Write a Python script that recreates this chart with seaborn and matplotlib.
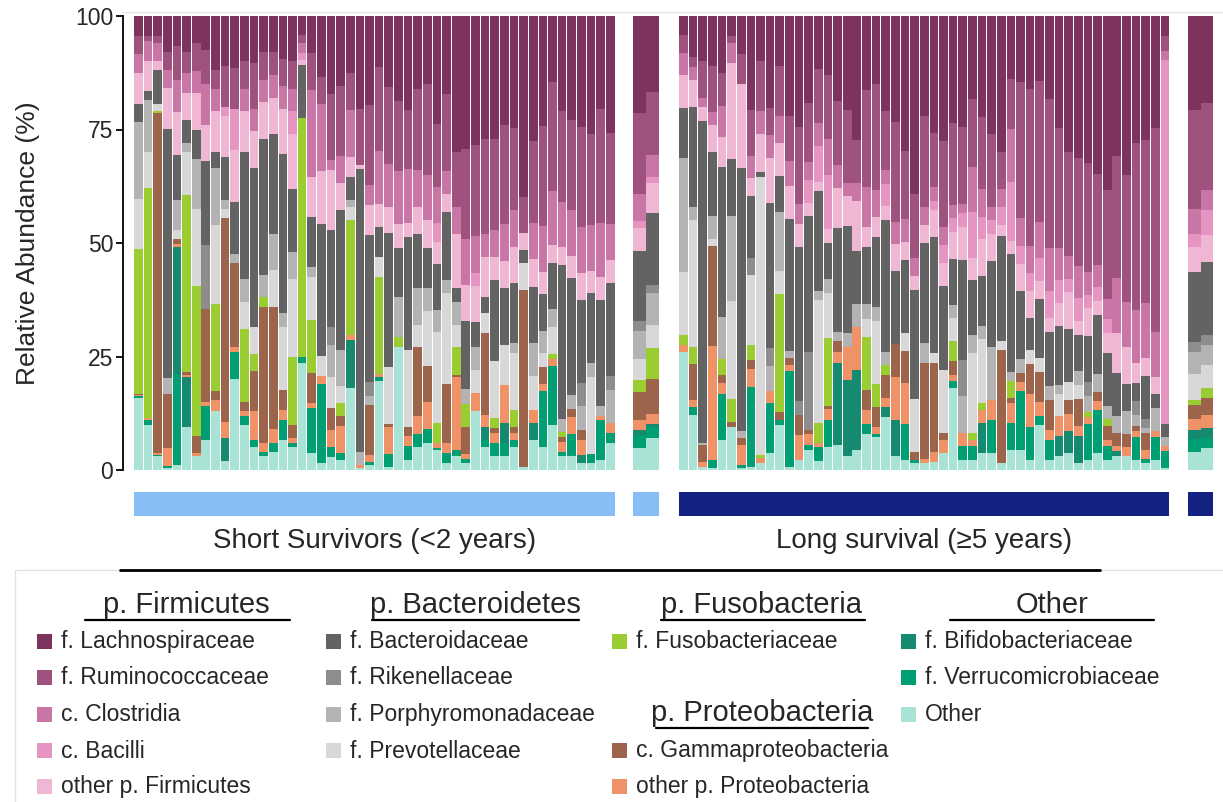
import numpy as np
import matplotlib
matplotlib.use("Agg")
import matplotlib.pyplot as plt
import seaborn as sns
from matplotlib.lines import Line2D
from matplotlib.patches import Rectangle

sns.set_theme(style="white")
plt.rcParams['font.family'] = ['Liberation Sans', 'DejaVu Sans']

W, H = 1223, 802

# ---------------- data (bottom -> top stacking order) ----------------
# order of bars: 50 short-survivor samples, 2 short means,
#                51 long-survivor samples, 2 long means
labels = ["Other", "f. Verrucomicrobiaceae", "f. Bifidobacteriaceae",
          "other p. Proteobacteria", "c. Gammaproteobacteria", "f. Fusobacteriaceae",
          "f. Prevotellaceae", "f. Porphyromonadaceae", "f. Rikenellaceae",
          "f. Bacteroidaceae", "other p. Firmicutes", "c. Bacilli", "c. Clostridia",
          "f. Ruminococcaceae", "f. Lachnospiraceae"]
colors = ["#A8E3D5", "#009E73", "#168A70", "#F09268", "#9C644A", "#9ACD32",
          "#D8D8D8", "#B3B3B3", "#8D8D8D", "#636363", "#F0B7D5", "#E694C2",
          "#C975A6", "#A0527E", "#7C335E"]

other = [16, 10, 3, 0.5, 1, 9.5, 3, 6.5, 13, 2,
         20, 10, 5, 3, 4, 6.6, 5, 23.5, 3.7, 1.5,
         2.9, 2.2, 18, 0.5, 1.1, 19.5, 0.7, 27.2, 2.2, 5,
         6, 4.4, 1.5, 3, 1.5, 13, 5, 3, 3, 5,
         0.7, 6.6, 5, 10, 3, 3, 1.5, 1.5, 2.2, 5.9,
         4.8, 7,
         26, 12, 0.7, 0.5, 6.6, 9.5, 0.5, 0.7, 1.5, 3.7,
         10, 0.7, 2.2, 4.4, 2, 5, 5.5, 3, 4.4, 8,
         7.3, 11.7, 3, 2.2, 1.5, 1.5, 1.8, 3.7, 18, 2.2,
         2.2, 3.7, 3.7, 1.5, 4.4, 4.4, 2.2, 10, 2.2, 3,
         3.7, 1.5, 2.2, 3.7, 2.2, 3, 3, 2.2, 1.5, 2.2,
         0.5,
         4, 4.8]
verruco = [0.3, 1, 0.3, 0.3, 20, 0, 0, 7.5, 0, 0,
           6, 2, 1.5, 1, 2, 4.4, 1, 1.5, 9.9, 17.3,
           2.2, 1.5, 0, 0, 0.7, 1, 2.9, 0, 3, 3,
           3, 0.5, 2.2, 1.5, 1, 0, 1.5, 3, 3, 1.5,
           0, 0, 12.5, 13, 1, 5, 0, 2, 8.8, 2.2,
           3, 2.6,
           0, 1.8, 0, 1.8, 10, 0, 0.7, 17.5, 0, 11,
           1, 21, 0, 1, 3, 6, 0, 0, 0, 2.2,
           0.7, 0, 0, 8, 0.7, 0, 0, 0, 1.5, 3,
           3, 0, 7.3, 0, 6, 13, 7.3, 2, 4.4, 0,
           0, 0, 8, 9.5, 3, 0, 0, 5, 1, 5,
           3.7,
           2.9, 2.2]
bifido = [0, 0, 0, 0, 28, 11, 0, 0, 0, 5,
          0, 0, 0, 0, 0, 0, 0, 0, 0, 0,
          0, 0, 10.6, 0, 0, 0, 0, 0, 0, 0,
          0, 0, 0, 0, 0, 0, 3, 0, 4.4, 0,
          0, 3.7, 0, 0, 0, 0, 1.8, 0, 0, 0,
          1, 0.5,
          0, 0, 0, 0, 0, 0, 0, 0, 0, 0,
          0, 0, 0, 0, 0, 0, 18, 16.9, 17.6, 0,
          0, 2.2, 8, 0, 0, 0, 0, 0, 0, 0,
          0, 6.6, 0, 0, 0, 0, 0, 0, 0, 4.4,
          5, 6, 0, 0, 0, 1.1, 0, 0, 0, 0,
          0,
          1.8, 2.2]
proteo_other = [0.3, 0.5, 0.5, 4, 0.7, 0.5, 0.7, 1, 2.5, 3.5,
                1, 1, 6.6, 2, 3, 2.2, 1, 0, 1.1, 1.8,
                3.7, 5.9, 1.1, 0.5, 1.5, 0.7, 5.9, 0, 2.2, 4,
                6, 1, 2.2, 16, 1, 4, 2.6, 2.2, 8.4, 1.5,
                0, 3, 1.5, 1.5, 2.2, 3.7, 3.3, 0, 1, 2.2,
                2.2, 2.2,
                1.5, 1.5, 1, 25, 2.5, 0, 4.4, 4, 1.1, 2.6,
                0, 1.5, 5.5, 2.5, 1, 2.5, 2.5, 7.3, 9.5, 3,
                1.5, 2, 9.5, 9, 0, 1, 2.2, 2.9, 1.5, 3,
                1.5, 3, 4.4, 0, 4.4, 2, 7.3, 3, 2.2, 4.4,
                3.7, 2, 1.5, 2, 1.5, 1.1, 2, 1.5, 2, 1.5,
                1,
                2.6, 2.9]
gamma = [0.3, 0, 75, 12, 1, 0.5, 3.7, 20.5, 2, 45,
         18.5, 2, 8.8, 30, 27, 4.4, 3, 0, 6.6, 0,
         4.8, 2.2, 0, 0, 11, 0, 0.7, 0, 2, 15,
         8, 0, 13, 0.5, 6, 0, 18, 1, 0, 1.5,
         39, 0, 3.7, 0, 1.1, 1.8, 2.2, 0, 0, 0,
         6.2, 7.7,
         0, 8, 3.7, 22, 1.8, 1.1, 1.5, 2, 0, 0,
         1.8, 1.5, 4.4, 1, 0, 0.5, 2.5, 0, 0, 4.4,
         4.4, 5, 7.3, 7, 1.8, 21, 19.5, 1.5, 3, 0,
         0, 0, 0, 25, 1, 2, 6.6, 6.6, 6.6, 0,
         3, 6, 0, 2, 3, 3, 3, 1, 3.7, 0,
         0,
         2.9, 3.7]
fuso = [32, 51, 0.3, 0, 0, 39, 33, 0, 19, 0,
        0, 16, 3.7, 2, 0, 0, 15, 52.5, 11.7, 0,
        0, 2.9, 25.3, 0, 0, 21.3, 0, 2, 0, 0,
        0, 4.4, 0, 6, 5, 0, 0, 2.2, 0, 3.7,
        0, 0, 0, 1, 1, 0, 0, 0, 0, 0,
        2.6, 7,
        2.2, 3.7, 0, 0, 3.3, 5, 0, 3.3, 0.7, 0,
        26, 0, 0, 0, 4.4, 15, 0, 0, 0, 11.7,
        5, 2.2, 0, 0, 0, 0, 0, 0, 4.4, 0,
        1.5, 1.5, 0, 0, 3.7, 0, 0, 0, 0, 0,
        0, 0, 1, 0, 1.5, 0, 0, 0, 0, 0,
        0,
        1.1, 2.2]
prevotella = [11, 8, 1.5, 0, 2, 9.5, 17, 0, 17.5, 2,
              0, 6, 6, 0, 8, 14, 17, 0, 9.5, 4.4,
              7, 3.7, 2.9, 0, 0, 4.4, 12.5, 0, 17, 5,
              12, 20, 20, 5, 0, 5, 4.4, 12.5, 8.8, 12.5,
              5.9, 7.3, 3, 6, 0, 0, 0, 17, 0, 0,
              4.8, 5.1,
              14, 27.9, 0, 1.5, 0, 21.5, 0, 15.4, 61.3, 0,
              5, 0, 0, 0, 27, 10, 0, 0, 0, 4,
              14, 0, 0, 4, 11.7, 0, 2.2, 14, 5, 0,
              17.6, 14, 0, 2, 0, 0, 3, 3, 0, 5,
              4, 3, 0, 0, 0, 0, 0, 0, 0, 0,
              0,
              5.9, 5.1]
porphyro = [17, 11.5, 0, 3.5, 6.5, 2, 11, 0, 12.5, 2,
            2, 5, 0, 5, 8, 3, 6, 0, 2.2, 0,
            7, 8.1, 1.5, 3, 2.1, 0, 0, 8.8, 0, 8,
            5, 5, 3, 5, 3.3, 5, 0, 0, 0, 2.2,
            0, 7.3, 5, 4, 3, 3, 5.3, 3, 2, 7.3,
            6.2, 7,
            25, 2.9, 0.5, 5, 9.2, 18.7, 1.5, 0, 0, 5.5,
            13, 1.5, 0, 0, 2, 3, 2, 3, 5, 3.3,
            3, 3, 0, 0, 0, 4.4, 0, 0, 3, 8,
            4, 3, 11.7, 0, 2, 3, 0, 0, 3, 2,
            0, 3, 3.6, 4, 2.9, 3.7, 5, 2.5, 1, 5,
            2,
            4.8, 4.4]
rikenella = [0, 0, 0, 0, 0, 0, 0, 14, 0, 0,
             0, 0, 0, 0, 0, 0, 0, 0, 0, 0,
             4, 0, 0, 0, 3, 0, 0, 0, 0, 0,
             0, 0, 0, 0, 0, 0, 0, 0, 0, 0,
             0, 0, 0, 0, 0, 0, 5, 0, 0, 3,
             2.2, 1.8,
             0, 0, 0, 0, 0, 0, 0, 3.7, 0, 4,
             0, 0, 3, 17, 0, 0, 0, 0, 0, 0,
             0, 0, 0, 0, 0, 0, 0, 0, 0, 8,
             0, 0, 0, 0, 0, 0, 0, 0, 0, 0,
             0, 0, 3, 0, 0, 0, 0, 3, 2, 0,
             0,
             2.2, 2.2]
bacteroid = [4, 2, 7.5, 55, 10, 5, 6.5, 18.5, 3.5, 9.5,
             11.5, 28, 35, 30, 22, 35, 14, 11.7, 11, 29,
             21.3, 30.8, 5.1, 62.4, 32.3, 6.6, 29.4, 11, 25, 12,
             9, 10, 15, 3, 15, 5.5, 3.7, 18, 12.5, 13,
             3, 12.5, 8, 10, 33.8, 25.7, 18.4, 15.4, 23.5, 20.6,
             15.4, 15.8,
             11, 22, 71, 14, 33, 12.5, 58, 13.6, 1.1, 32,
             8, 29, 34, 30, 22, 8, 22.7, 23.5, 11.7, 12.5,
             15.4, 29, 16, 16, 24, 22, 25.7, 18.4, 10, 22,
             12, 11, 19, 23, 26, 15, 7, 13, 12, 13,
             11.7, 8, 10.3, 13, 11.7, 9.5, 6, 4, 9.5, 3,
             3,
             15.4, 16.2]
firm_other = [7, 6.5, 2, 9, 9.5, 6, 8, 8, 9, 9,
              11.5, 9, 8, 8, 8, 10, 12, 1.1, 8.8, 11.7,
              13.2, 5.9, 4.4, 0.7, 6.6, 5.1, 5.9, 5.1, 3, 6,
              6, 5, 4, 12, 8, 8, 8.8, 5, 6, 8,
              3.7, 6, 5, 4, 4, 5, 6, 5, 5, 5,
              5.1, 6.6,
              7.3, 5.9, 3, 6, 6.6, 21, 18.4, 4, 8.4, 10,
              7.3, 7.3, 5, 3, 2, 3, 9, 6.6, 11, 4.4,
              4.4, 3, 5.9, 4, 3, 4, 5.9, 5, 6, 7.3,
              5, 8, 5.9, 2.5, 3, 6, 6, 4, 3, 5,
              8, 3, 6, 3, 4.4, 8.8, 8, 4.4, 4, 3.7,
              0,
              5.5, 5.9]
bacilli = [0, 0, 0, 0, 0, 0, 0, 0, 0, 2,
           9, 0, 0, 0, 0, 0, 5, 1.5, 0, 0,
           0, 0, 0, 0, 0, 0, 0, 0, 0, 0,
           0, 4, 0, 0, 0, 3, 0, 0, 0, 0,
           0, 0, 0, 0, 0, 0, 0, 0, 0, 0,
           1.5, 1.5,
           0, 0, 0, 0, 0, 0, 0, 0, 0, 0,
           0, 0, 0, 5, 8, 12, 0, 0, 0, 0,
           0, 5, 0, 0, 0, 0, 2, 4, 3, 3,
           10, 5, 3, 4, 13, 4, 4, 5, 6, 5,
           3, 5, 3, 3, 3, 0, 0, 0, 0, 0,
           80,
           2.9, 5.5]
clostridia = [4, 4.5, 4, 4, 7, 4.5, 5, 9, 5, 0,
              0, 5, 5, 5, 5, 5, 5, 2.2, 19.1, 14.7,
              2.2, 5.9, 10.3, 0, 4.4, 11.7, 9.5, 11.7, 12, 8,
              10, 8, 5, 6, 10, 8, 5, 6, 8, 8,
              0, 8, 10, 12, 10, 10, 10, 10, 12, 8,
              5.9, 4.8,
              4.8, 2.9, 2, 3, 6.6, 4.4, 0, 5, 5, 5,
              6, 5.5, 4.4, 4, 5, 8, 5, 3, 4, 8.8,
              5.9, 3, 5, 5, 4, 4, 3, 4, 3, 2,
              10, 6, 3, 4, 11.7, 6, 6, 8, 9.4, 7,
              5, 7, 5, 5, 4.3, 12, 10, 11.7, 12, 10,
              2,
              5.5, 4.4]
rumino = [4, 1, 1.5, 4, 7.5, 4.5, 6, 7.5, 4, 9,
          9, 6, 10, 6, 5, 6, 6, 1.8, 8.1, 5.9,
          14.7, 15.4, 8.1, 12.5, 17.6, 18.4, 16.9, 15.4, 13, 18,
          20, 14, 17, 12, 20, 20, 21, 20, 22, 18,
          8, 18, 22, 24, 20, 20, 22, 20, 25, 20,
          18, 14,
          4, 2.2, 8, 10, 7.3, 1.5, 6.6, 10, 11, 6,
          11, 10, 17, 13, 12, 14, 14, 16, 9.5, 21.3,
          23.5, 13, 22, 15, 14, 20, 12, 19, 18, 17,
          15, 16, 16, 8, 11, 30, 34.5, 31, 33, 26.5,
          23, 23.5, 24, 20, 24, 27, 28, 36.7, 36, 45,
          3.3,
          21.7, 19.1]
lachno = [4.5, 4.5, 4.5, 8, 6.5, 8, 6, 7.5, 12, 11,
          11.5, 10, 10.4, 8, 8, 9.4, 10, 4.2, 8.2, 13.4,
          17.1, 15.5, 12.6, 20.4, 19.7, 11.3, 15.6, 18.8, 20.6, 16,
          15, 23.7, 17.1, 30, 29.2, 28.5, 27, 27.1, 23.9, 24.6,
          39.8, 27.6, 24.3, 14.5, 20.9, 22.8, 24.5, 26.1, 20.5, 25.8,
          21.4, 16.7,
          4.2, 9, 10, 11, 12.5, 4.4, 8.4, 20.7, 9.9, 20.2,
          11, 22, 24.5, 19.1, 11.6, 13, 18.8, 20.7, 27.3, 16.4,
          14.9, 20.9, 23.3, 29.8, 39.3, 22.1, 25.7, 27.5, 23.6, 24.5,
          18.2, 22.2, 26, 30, 13.8, 14.6, 16.1, 14.4, 18.2, 24.7,
          29.9, 31, 32.4, 34.8, 38.3, 30.8, 35, 28, 27.3, 24.6,
          4.5,
          20.7, 19.2]

series = [other, verruco, bifido, proteo_other, gamma, fuso, prevotella,
          porphyro, rikenella, bacteroid, firm_other, bacilli, clostridia,
          rumino, lachno]

group_labels = ["Short Survivors (<2 years)", "Long survival (\u22655 years)"]
group_colors = ["#86BEF5", "#132180"]
n_short, n_long = 50, 51

# relative abundance -> percent of each bar
vals = np.array(series, dtype=float)
vals = vals / vals.sum(axis=0, keepdims=True) * 100

# ---------------- layout ----------------
short_x = np.arange(n_short, dtype=float)
short_mean_x = short_x[-1] + np.array([3.04, 4.39])
long_x = short_mean_x[-1] + 3.21 + np.arange(n_long, dtype=float)
long_mean_x = long_x[-1] + np.array([3.05, 4.35])
x_all = np.concatenate([short_x, short_mean_x, long_x, long_mean_x])
w_all = np.concatenate([np.full(n_short, 0.9), np.full(2, 1.36),
                        np.full(n_long, 0.9), np.full(2, 1.31)])

fig = plt.figure(figsize=(W / 100, H / 100), dpi=100)
fig.patch.set_facecolor("white")

def fx(px):
    return px / W

def fy(py):
    return 1 - py / H

x0, x1 = 123, 1217
xlim = (-1.6, -1.6 + (x1 - x0) / 9.63)
ax = fig.add_axes([fx(x0), fy(470), fx(x1) - fx(x0), fy(16) - fy(470)])
bottom = np.zeros(vals.shape[1])
for v, c in zip(vals, colors):
    ax.bar(x_all, v, width=w_all, bottom=bottom, color=c, linewidth=0, align="center")
    bottom += v
ax.set_xlim(*xlim)
ax.set_ylim(0, 100)
ax.set_yticks([0, 25, 50, 75, 100])
ax.set_yticklabels(["0", "25", "50", "75", "100"], fontsize=16.5)
ax.set_xticks([])
sns.despine(ax=ax, top=True, right=True, bottom=True, left=False)
ax.spines['left'].set_color("black")
ax.spines['left'].set_linewidth(1.3)
ax.tick_params(axis='y', length=5, width=1.3, color="black", direction="out", pad=2, left=True)
ax.set_facecolor("white")
ax.grid(False)

fig.text(fx(28), fy(243), "Relative Abundance (%)", rotation=90, ha="center",
         va="center", fontsize=19)

# group strips
ax2 = fig.add_axes([fx(x0), fy(516), fx(x1) - fx(x0), fy(492) - fy(516)])
ax2.set_xlim(*xlim)
ax2.set_ylim(0, 1)
ax2.axis("off")
for xs, ms, col, lab in [(short_x, short_mean_x, group_colors[0], group_labels[0]),
                         (long_x, long_mean_x, group_colors[1], group_labels[1])]:
    ax2.bar((xs[0] + xs[-1]) / 2, 1, width=xs[-1] - xs[0] + 0.9, color=col, linewidth=0)
    ax2.bar(ms.mean(), 1, width=ms[-1] - ms[0] + 1.33, color=col, linewidth=0)
    ax2.text((xs[0] + xs[-1]) / 2, -1.05, lab, ha="center", va="center", fontsize=20)

# separator lines / legend frame
fig.add_artist(Line2D([fx(122), fx(1223)], [fy(11.5)] * 2, color="#e6e6e6", lw=1))
fig.add_artist(Rectangle((fx(15), fy(802) - 0.01), fx(1240) - fx(15), fy(570) - fy(802) + 0.01,
                         fill=False, edgecolor="#e2e2e2", lw=1, transform=fig.transFigure))
fig.add_artist(Line2D([fx(120), fx(1100)], [fy(570)] * 2, color="black", lw=2))

# legend
headers = [("p. Firmicutes", 186, 605, 85, 290, 620),
           ("p. Bacteroidetes", 475, 605, 372, 579, 620),
           ("p. Fusobacteria", 762, 605, 661, 865, 620),
           ("p. Proteobacteria", 762, 713, 656, 868, 728),
           ("Other", 1052, 605, 950, 1154, 620)]
for txt, cx, cy, ux0, ux1, uy in headers:
    fig.text(fx(cx), fy(cy), txt, ha="center", va="center", fontsize=21)
    fig.add_artist(Line2D([fx(ux0), fx(ux1)], [fy(uy)] * 2, color="black", lw=1.6))

rows = [641.5, 678, 714.5, 751, 787]
legend_items = [
    (37, 14, 0), (37, 13, 1), (37, 12, 2), (37, 11, 3), (37, 10, 4),
    (326, 9, 0), (326, 8, 1), (326, 7, 2), (326, 6, 3),
    (612, 5, 0), (612, 4, 3), (612, 3, 4),
    (901, 2, 0), (901, 1, 1), (901, 0, 2),
]
for sx, idx, r in legend_items:
    cy = rows[r]
    fig.add_artist(Rectangle((fx(sx), fy(cy + 7)), 15 / W, 15 / H, color=colors[idx],
                             transform=fig.transFigure, linewidth=0))
    fig.text(fx(sx + 24), fy(cy), labels[idx], ha="left", va="center", fontsize=16.5)

fig.savefig("out.png", dpi=100, facecolor="white")
